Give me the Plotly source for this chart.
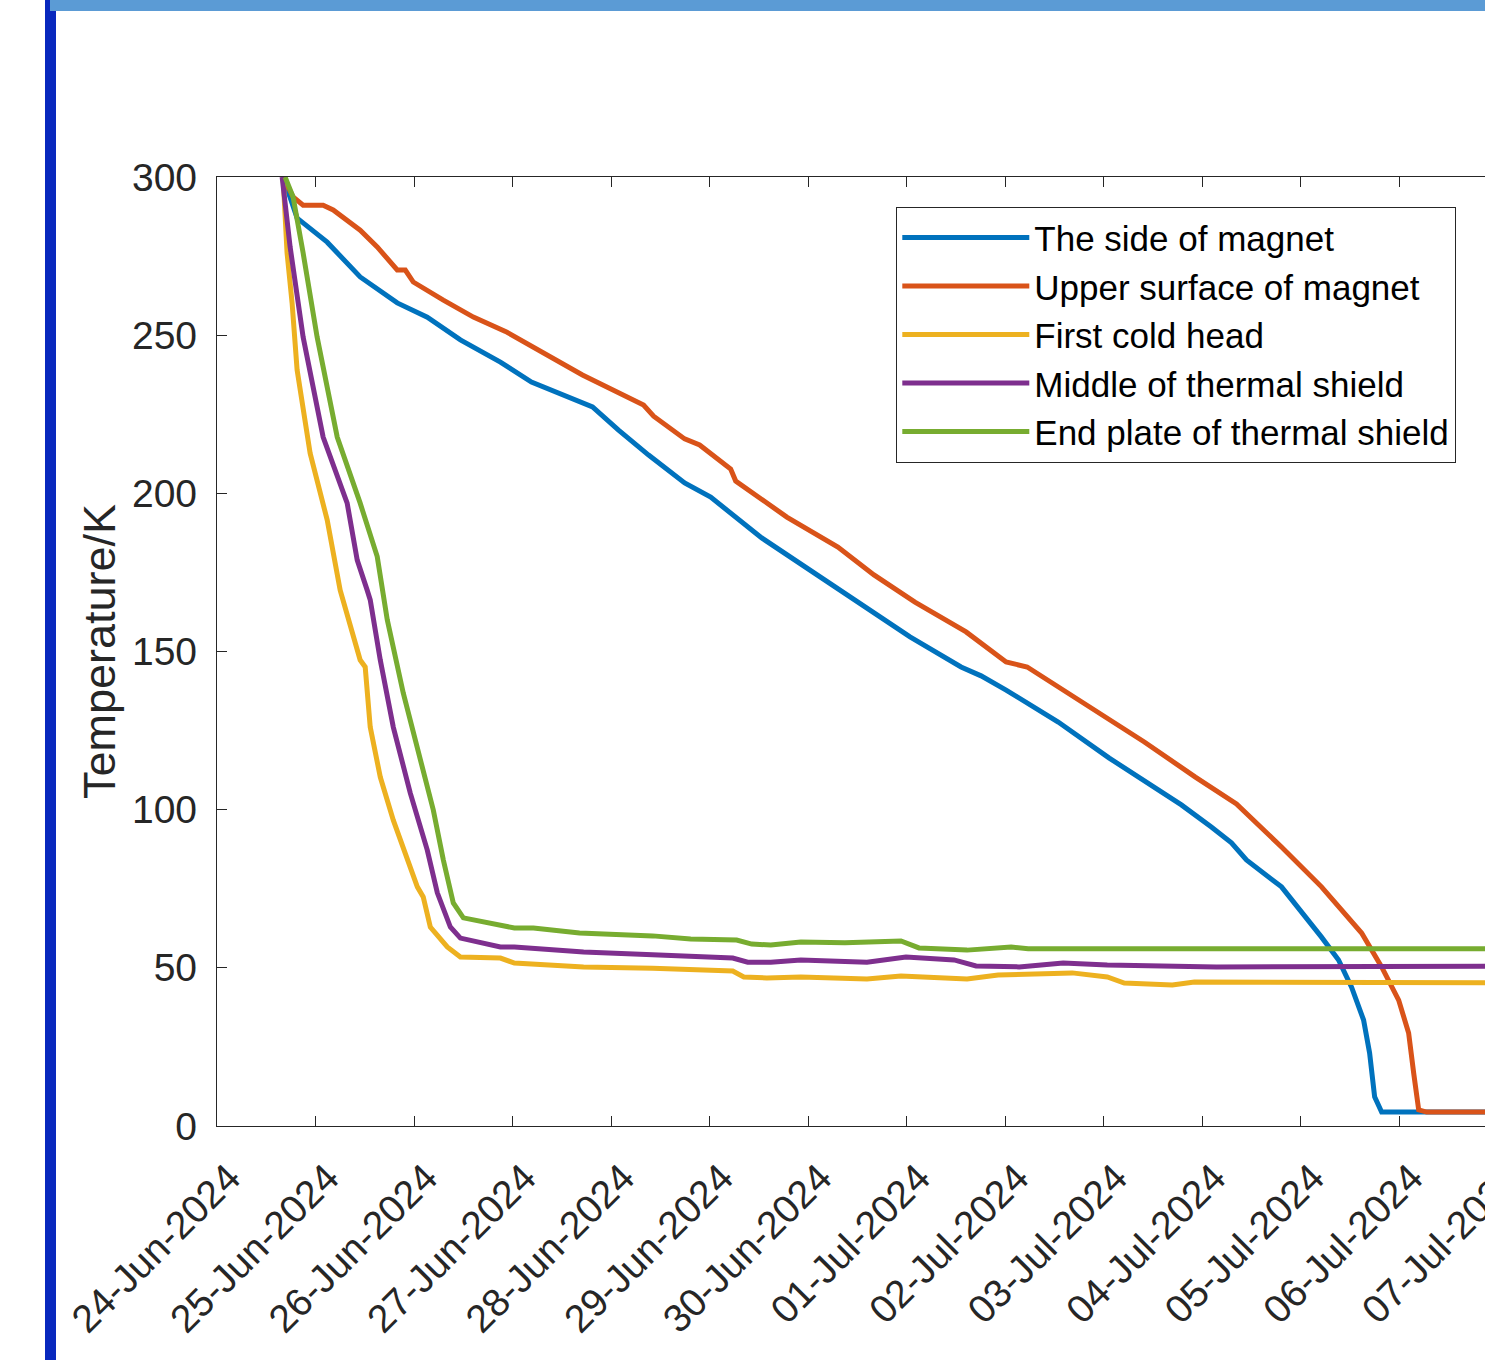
import pandas as pd
import plotly.graph_objects as go

# ---------------- data (days after 24-Jun-2024 00:00, temperature in K) ----------------
start_date = "2024-06-24"
end_date = "2024-07-07"

side_days = [0.671, 0.813, 1.118, 1.453, 1.829, 2.134, 2.470, 2.876, 3.191, 3.811, 4.075, 4.380,
             4.746, 5.010, 5.528, 5.884, 6.514, 7.033, 7.551, 7.754, 8.008, 8.537, 9.055, 9.411,
             9.787, 10.091, 10.295, 10.447, 10.803, 11.209, 11.382, 11.514, 11.636, 11.697,
             11.748, 11.819, 13.0]
side_temp = [300, 287.0, 279.4, 268.4, 260.2, 255.7, 248.5, 241.5, 235.2, 227.3, 220.0, 212.1,
             203.3, 198.8, 185.9, 178.6, 165.6, 154.6, 145.1, 142.3, 137.8, 127.7, 116.3, 109.1,
             101.5, 94.5, 89.5, 84.1, 75.6, 59.7, 52.5, 43.9, 33.5, 23.1,
             9.2, 4.4, 4.4]

upper_days = [0.671, 0.772, 0.874, 1.077, 1.179, 1.453, 1.626, 1.829, 1.911, 1.992, 2.297, 2.602,
              2.927, 3.709, 4.329, 4.431, 4.746, 4.898, 5.213, 5.264, 5.783, 6.301, 6.667, 7.083,
              7.602, 8.008, 8.222, 8.537, 8.892, 9.411, 9.929, 10.346, 10.803, 11.209, 11.616,
              11.819, 11.992, 12.093, 12.144, 12.195, 12.276, 13.0]
upper_temp = [300, 293.7, 291.1, 291.1, 289.6, 283.2, 277.9, 270.6, 270.6, 266.8, 261.1, 255.7,
              251.2, 237.4, 227.9, 224.4, 217.2, 215.3, 207.7, 203.9, 192.5, 183.0, 174.2, 165.6,
              156.2, 146.7, 145.1, 138.8, 132.1, 121.4, 110.3, 101.8, 88.2, 75.6, 61.0,
              50.3, 39.8, 29.4, 16.8, 5.1, 4.4, 4.4]

cold_days = [0.671, 0.711, 0.762, 0.813, 0.945, 1.118, 1.250, 1.453, 1.504, 1.555, 1.657, 1.789,
             2.033, 2.093, 2.165, 2.337, 2.470, 2.876, 3.018, 3.720, 4.421, 5.234, 5.346, 5.579,
             5.925, 6.596, 6.941, 7.612, 7.927, 8.679, 9.035, 9.207, 9.695, 9.919, 13.0]
cold_temp = [300, 276.0, 260.2, 239.0, 212.7, 191.6, 169.4, 147.3, 145.1, 126.1, 110.3, 96.7,
             75.6, 72.4, 62.9, 56.6, 53.4, 53.1, 51.5, 50.3, 49.9, 49.0, 47.1, 46.8,
             47.1, 46.5, 47.4, 46.5, 47.7, 48.4, 47.1, 45.2, 44.6, 45.5, 45.3]

middle_days = [0.661, 0.742, 0.874, 1.077, 1.321, 1.423, 1.524, 1.555, 1.657, 1.789, 1.961, 2.134,
               2.236, 2.368, 2.470, 2.876, 3.018, 3.720, 4.421, 5.234, 5.386, 5.620, 5.925, 6.596,
               6.992, 7.480, 7.703, 8.140, 8.587, 9.035, 10.142, 13.0]
middle_temp = [300, 277.9, 249.4, 217.8, 196.9, 178.9, 169.4, 166.3, 147.3, 126.1, 105.3, 87.2,
               73.7, 62.9, 59.4, 56.6, 56.6, 55.0, 54.1, 53.1, 51.8, 51.8, 52.5, 51.8,
               53.4, 52.5, 50.6, 50.3, 51.5, 50.9, 50.3, 50.5]

end_days = [0.691, 0.772, 0.874, 1.016, 1.220, 1.453, 1.626, 1.728, 1.890, 2.063, 2.195, 2.297,
            2.398, 2.500, 2.876, 3.018, 3.211, 3.679, 4.421, 4.807, 5.274, 5.427, 5.620, 5.925,
            6.372, 6.941, 7.124, 7.612, 8.059, 8.232, 13.0]
end_temp = [300, 293.7, 276.0, 249.4, 217.8, 196.9, 180.0, 160.0, 136.9, 115.7, 99.9, 84.1,
            70.5, 65.8, 63.5, 62.6, 62.6, 61.0, 60.1, 59.1, 58.8, 57.5, 57.2, 58.2,
            57.9, 58.5, 56.3, 55.6, 56.6, 56.0, 56.0]

series_names = ["The side of magnet", "Upper surface of magnet", "First cold head",
                "Middle of thermal shield", "End plate of thermal shield"]
series_colors = ["#0072BD", "#D95319", "#EDB120", "#7E2F8E", "#77AC30"]
series_days = [side_days, upper_days, cold_days, middle_days, end_days]
series_temp = [side_temp, upper_temp, cold_temp, middle_temp, end_temp]

y_ticks = [0, 50, 100, 150, 200, 250, 300]

# ---------------- figure ----------------
W, H = 1522, 1360
L, R, T, B = 217, 24, 177, 234
pw, ph = W - L - R, H - T - B

base = pd.Timestamp(start_date)
fig = go.Figure()
for name, color, days, temps in zip(series_names, series_colors, series_days, series_temp):
    times = base + pd.to_timedelta(days, unit="D")
    fig.add_trace(go.Scatter(x=times, y=temps, mode="lines", name=name,
                             line=dict(color=color, width=5)))

axis_col = "#262626"
font_fam = "Liberation Sans, Arial, sans-serif"

fig.update_layout(
    width=W, height=H,
    margin=dict(l=L, r=R, t=T, b=B, pad=0, autoexpand=False),
    paper_bgcolor="white", plot_bgcolor="white",
    font=dict(family=font_fam, color=axis_col),
    showlegend=True,
    legend=dict(x=(896 - L) / pw, y=(1126 - 207) / ph, xanchor="left", yanchor="top",
                bgcolor="white", bordercolor=axis_col, borderwidth=1.3,
                font=dict(family=font_fam, size=35, color="black"),
                itemwidth=127, tracegroupgap=0),
)

fig.update_xaxes(
    type="date", range=[start_date, end_date], automargin=False,
    tick0=start_date, dtick=86400000, tickformat="%d-%b-%Y", tickangle=-45,
    showgrid=False, zeroline=False,
    showline=True, linecolor=axis_col, linewidth=1.3, mirror="ticks",
    ticks="inside", ticklen=10, tickwidth=1.3, tickcolor=axis_col,
    tickfont=dict(family=font_fam, size=39, color=axis_col),
    ticklabelstandoff=12, ticklabelshift=12, ticklabeloverflow="allow",
)
fig.update_yaxes(
    range=[0, 300], tickvals=y_ticks, automargin=False,
    showgrid=False, zeroline=False,
    showline=True, linecolor=axis_col, linewidth=1.3, mirror="ticks",
    ticks="inside", ticklen=10, tickwidth=1.3, tickcolor=axis_col,
    tickfont=dict(family=font_fam, size=39, color=axis_col),
    ticklabelstandoff=11,
    title=dict(text="Temperature/K", font=dict(family=font_fam, size=45, color=axis_col), standoff=2),
)

# decorative frame bars of the original screenshot
def px_x(p):
    return (p - L) / pw

def px_y(p):
    return (H - B - p) / ph

fig.add_shape(type="rect", xref="paper", yref="paper",
              x0=px_x(45), x1=px_x(56), y0=px_y(1400), y1=px_y(-40),
              fillcolor="#0828BE", line=dict(width=0), layer="above")
fig.add_shape(type="rect", xref="paper", yref="paper",
              x0=px_x(50), x1=px_x(W + 20), y0=px_y(11), y1=px_y(-40),
              fillcolor="#5B9BD5", line=dict(width=0), layer="above")

fig.write_html(
    "out.html",
    config={"displayModeBar": False},
    post_script="document.documentElement.style.overflow='hidden';"
                "document.body.style.margin='0';document.body.style.overflow='hidden';",
)
